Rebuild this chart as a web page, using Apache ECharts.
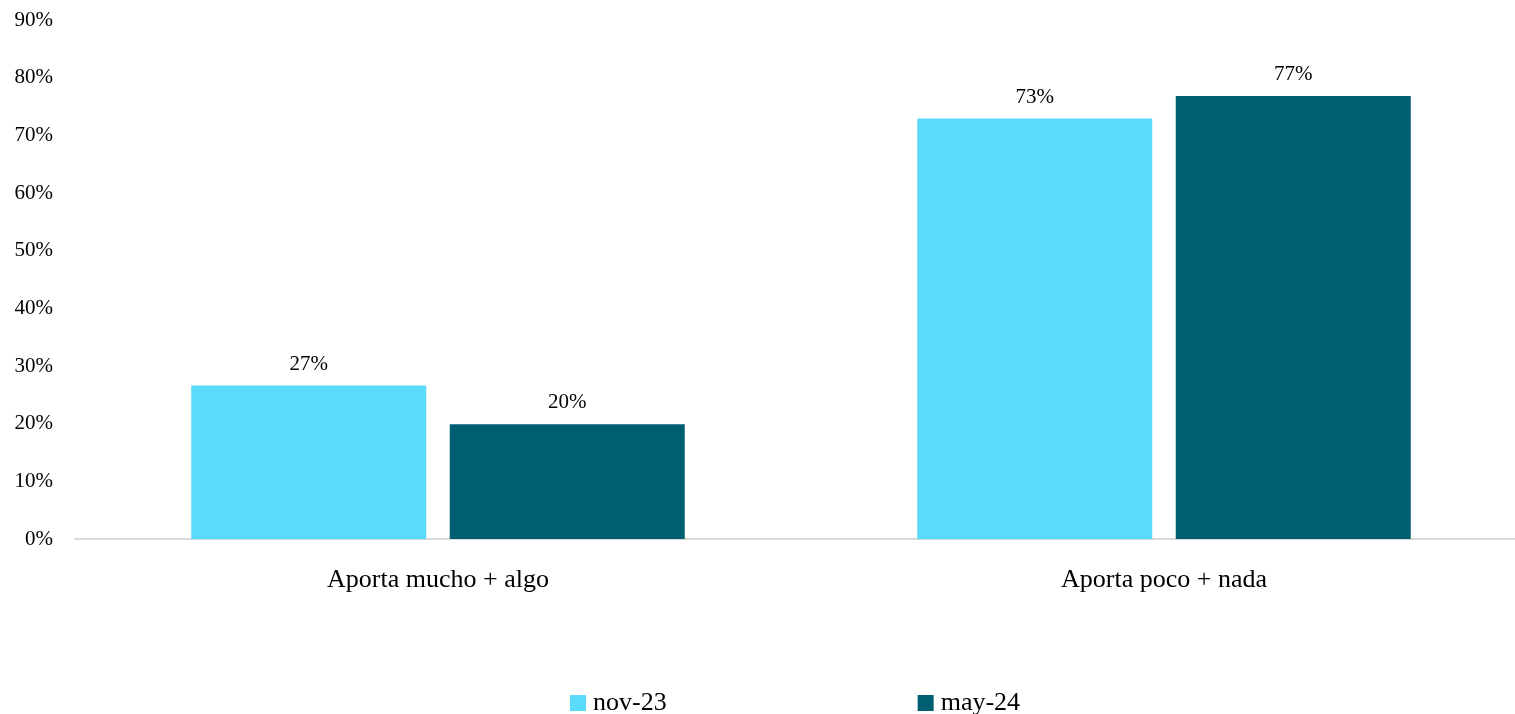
<!DOCTYPE html>
<html>
<head>
<meta charset="utf-8">
<script src="https://cdn.jsdelivr.net/npm/echarts@6/dist/echarts.min.js"></script>
<style>html,body{margin:0;padding:0;background:#fff}#c{width:1515px;height:714px}</style>
</head>
<body>
<div id="c"></div>
<script>
const categories = ['Aporta mucho + algo', 'Aporta poco + nada'];
const seriesNames = ['nov-23', 'may-24'];
const nov23 = [26.6, 72.9];
const may24 = [19.9, 76.8];
const yTicks = [0, 10, 20, 30, 40, 50, 60, 70, 80, 90];

const FONT = '"Liberation Serif", "DejaVu Serif", serif';
const chart = echarts.init(document.getElementById('c'));
const labelCfg = {
  show: true, position: 'top', distance: 11,
  color: '#000', fontFamily: FONT, fontSize: 21,
  formatter: p => Math.round(p.value) + '%'
};
chart.setOption({
  animation: false,
  textStyle: { fontFamily: FONT },
  grid: { left: 75, right: -12, top: 20, bottom: 175, containLabel: false, outerBoundsMode: 'none' },
  legend: {
    data: seriesNames, top: 685, left: 565,
    itemWidth: 16, itemHeight: 16, itemGap: 251,
    icon: 'rect',
    textStyle: { fontFamily: FONT, fontSize: 26, color: '#000', padding: [0, 0, 0, 2] }
  },
  xAxis: {
    type: 'category', data: categories,
    axisLine: { lineStyle: { color: '#d9d9d9', width: 2 } },
    axisTick: { show: false },
    axisLabel: { color: '#000', fontFamily: FONT, fontSize: 26, margin: 28 }
  },
  yAxis: {
    type: 'value', min: yTicks[0], max: yTicks[yTicks.length - 1], interval: 10,
    splitLine: { show: false },
    axisLine: { show: false }, axisTick: { show: false },
    axisLabel: { color: '#000', fontFamily: FONT, fontSize: 21, margin: 22, formatter: '{value}%' }
  },
  series: [
    { name: seriesNames[0], type: 'bar', data: nov23, barWidth: 235, barGap: '10%',
      itemStyle: { color: '#59DCFC' }, label: labelCfg },
    { name: seriesNames[1], type: 'bar', data: may24, barWidth: 235, barGap: '10%',
      itemStyle: { color: '#005E73' }, label: labelCfg }
  ]
});
</script>
</body>
</html>
